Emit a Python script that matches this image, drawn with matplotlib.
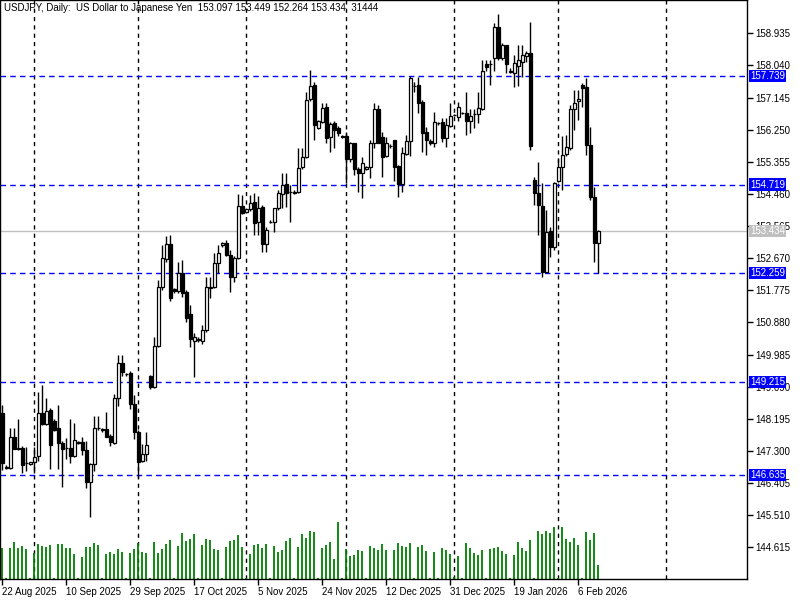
import matplotlib
matplotlib.use("Agg")
import matplotlib.pyplot as plt
import matplotlib.transforms as mtransforms
import numpy as np
import pandas as pd

# USDJPY daily bars (Sun-Fri broker calendar)
start_date = "2025-08-22"
opens = [148.36, 146.85, 146.83, 147.68, 147.36, 147.38, 146.96, 146.93, 146.98, 147.16,
         148.35, 148.04, 148.43, 148.13, 147.93, 147.51, 147.37, 147.37, 147.16, 147.53,
         147.54, 147.32, 146.43, 146.93, 147.93, 147.87, 147.91, 147.71, 147.53, 148.77,
         149.74, 149.43, 149.46, 148.60, 147.84, 147.03, 147.21, 149.39, 149.09, 150.23,
         151.86, 152.64, 153.06, 151.81, 151.75, 152.25, 151.74, 151.11, 150.37, 150.42,
         150.37, 150.67, 151.87, 151.87, 152.54, 153.04, 153.10, 152.76, 152.15, 152.68,
         154.12, 153.95, 154.03, 154.23, 153.68, 154.09, 153.06, 153.68, 153.69, 154.06,
         154.46, 154.74, 154.52, 154.52, 154.52, 155.20, 155.50, 157.10, 157.49, 156.31,
         156.47, 156.87, 156.04, 156.43, 156.29, 156.07, 156.07, 155.42, 155.87, 155.15,
         155.03, 155.15, 155.22, 155.89, 156.82, 156.04, 155.52, 155.80, 155.96, 155.24,
         154.74, 155.57, 155.93, 157.47, 157.49, 157.03, 156.19, 155.93, 155.89, 156.43,
         156.46, 156.03, 156.35, 156.66, 156.61, 156.71, 156.72, 156.50, 156.68, 156.68,
         156.83, 158.07, 158.08, 158.26, 159.12, 158.26, 158.61, 157.87, 157.84, 158.02,
         158.14, 158.31, 158.38, 154.85, 154.49, 154.12, 152.29, 153.44, 152.97, 154.83,
         155.22, 155.57, 155.73, 156.82, 157.05, 157.49, 157.45, 155.82, 154.37, 153.097]
highs = [148.58, 146.91, 147.93, 147.94, 148.19, 147.44, 147.41, 146.99, 147.41, 148.93,
         149.14, 148.77, 148.49, 148.19, 148.58, 147.58, 147.65, 148.19, 148.07, 147.58,
         147.69, 147.58, 146.96, 148.28, 148.28, 147.94, 148.39, 147.77, 148.90, 149.97,
         149.97, 149.47, 149.53, 148.86, 147.88, 147.49, 147.82, 149.41, 150.48, 152.06,
         153.04, 153.29, 153.31, 151.84, 152.57, 152.62, 151.78, 151.37, 150.58, 150.48,
         150.81, 152.15, 152.15, 152.81, 153.04, 153.13, 153.18, 152.90, 152.73, 154.45,
         154.43, 154.04, 154.43, 154.49, 154.40, 154.15, 153.54, 153.73, 154.07, 154.57,
         155.03, 155.03, 154.71, 154.57, 155.73, 155.73, 157.31, 157.91, 157.58, 156.52,
         156.98, 156.98, 156.46, 156.49, 156.35, 156.11, 156.19, 155.91, 155.88, 155.22,
         155.50, 155.24, 155.96, 156.98, 156.94, 156.19, 156.05, 155.84, 155.97, 155.27,
         155.78, 156.10, 157.75, 157.59, 157.73, 157.08, 156.33, 155.98, 156.75, 156.46,
         156.57, 156.57, 156.98, 156.69, 157.03, 156.73, 157.31, 156.82, 156.82, 157.31,
         158.19, 158.19, 158.19, 159.21, 159.47, 158.66, 158.62, 157.96, 158.33, 158.61,
         158.61, 158.45, 159.26, 154.94, 155.36, 154.76, 154.01, 153.55, 154.80, 155.45,
         156.07, 156.10, 156.94, 157.36, 157.36, 157.54, 157.68, 156.32, 154.66, 153.449]
lows = [146.77, 146.80, 146.81, 147.35, 147.32, 146.68, 146.75, 146.91, 146.69, 147.03,
        148.02, 148.02, 146.80, 147.85, 146.80, 146.30, 147.07, 146.97, 147.12, 147.49,
        147.19, 146.26, 145.47, 146.75, 147.88, 147.83, 147.69, 147.44, 147.49, 148.55,
        149.40, 149.39, 148.46, 147.63, 146.54, 146.99, 147.03, 149.02, 149.04, 150.19,
        151.78, 152.56, 151.48, 151.70, 151.70, 151.60, 150.90, 150.20, 149.37, 150.34,
        150.28, 150.61, 151.55, 151.84, 152.25, 152.99, 152.73, 151.74, 152.01, 152.65,
        153.90, 153.93, 153.98, 153.32, 153.32, 152.84, 152.84, 153.65, 153.41, 154.01,
        154.07, 154.10, 153.68, 154.46, 154.49, 155.15, 155.46, 157.05, 155.96, 156.27,
        156.44, 155.87, 155.64, 155.73, 156.07, 156.03, 154.76, 155.36, 154.99, 154.52,
        154.34, 155.13, 154.90, 155.73, 155.88, 154.94, 155.49, 155.75, 154.83, 154.38,
        154.52, 155.54, 155.52, 157.31, 156.71, 155.64, 155.54, 155.82, 155.78, 156.39,
        155.91, 155.78, 156.33, 156.63, 156.50, 156.69, 156.10, 156.17, 156.29, 156.43,
        156.80, 157.88, 157.49, 157.88, 158.19, 158.19, 157.82, 157.82, 157.43, 157.47,
        157.73, 158.14, 155.68, 154.15, 153.32, 152.15, 152.27, 152.71, 152.90, 154.79,
        154.57, 155.52, 155.68, 156.24, 156.52, 156.87, 155.54, 154.29, 152.55, 152.264]
closes = [146.96, 146.82, 147.68, 147.36, 147.38, 146.91, 146.95, 146.98, 147.14, 148.35,
          148.04, 148.41, 147.46, 147.88, 147.51, 147.34, 147.37, 147.16, 147.60, 147.55,
          147.32, 146.44, 146.94, 147.93, 147.94, 147.91, 147.70, 147.56, 148.77, 149.74,
          149.51, 149.44, 148.60, 147.84, 147.00, 147.21, 147.46, 149.09, 150.23, 151.86,
          152.67, 153.06, 151.57, 151.76, 152.25, 151.71, 151.01, 150.41, 150.47, 150.40,
          150.67, 151.86, 151.85, 152.53, 152.82, 153.10, 152.76, 152.15, 152.68, 154.12,
          153.94, 154.03, 154.20, 153.64, 154.07, 153.06, 153.45, 153.69, 154.06, 154.48,
          154.71, 154.49, 154.51, 154.48, 155.17, 155.50, 157.08, 157.47, 156.38, 156.49,
          156.85, 156.01, 156.41, 156.24, 156.15, 156.06, 155.42, 155.87, 155.15, 155.03,
          155.31, 155.22, 155.89, 156.82, 155.89, 155.50, 155.87, 155.79, 155.20, 154.74,
          155.59, 155.93, 157.68, 157.46, 157.00, 156.17, 155.96, 155.87, 156.47, 156.44,
          156.01, 156.38, 156.63, 156.65, 156.87, 156.72, 156.50, 156.63, 156.69, 156.85,
          157.88, 158.00, 158.07, 159.12, 158.26, 158.61, 158.07, 157.88, 158.10, 158.19,
          158.33, 158.39, 155.80, 154.49, 154.15, 152.29, 153.41, 152.97, 154.77, 155.22,
          155.54, 155.76, 156.83, 157.00, 157.11, 157.40, 155.82, 154.37, 153.10, 153.434]
tick_volume = [69800, 1200, 69100, 83200, 69800, 74200, 66800, 1200, 59200, 78700,
               74200, 72000, 76500, 1200, 78700, 78700, 69800, 69800, 56200, 1200,
               49500, 72000, 72000, 81000, 76500, 1200, 56200, 60700, 56200, 67500,
               60700, 1200, 58500, 67500, 81700, 60700, 58500, 1200, 83200, 58500,
               67500, 78700, 87700, 1200, 74200, 103500, 85500, 90000, 101200, 1200,
               76500, 90000, 87700, 67500, 65200, 1600, 72000, 85500, 87700, 99000,
               72000, 1200, 56200, 76500, 78700, 69800, 78700, 1200, 74200, 60700,
               65200, 85500, 92200, 1200, 72000, 101200, 92200, 108000, 105700, 1200,
               69800, 76500, 83200, 45000, 128200, 1200, 67500, 51700, 54000, 65200,
               63000, 1200, 74200, 69800, 65200, 78700, 65200, 1200, 65200, 81000,
               74200, 72000, 81000, 1200, 72000, 76500, 63000, 1200, 60700, 1600,
               69800, 65200, 56200, 4500, 51700, 1200, 81000, 69800, 58500, 54000,
               65200, 1200, 67500, 69800, 72000, 63000, 56200, 1200, 54000, 83200,
               69800, 63000, 87700, 2200, 108000, 101200, 108000, 103500, 117000, 1200,
               117000, 90000, 83200, 92200, 76500, 2200, 105700, 87700, 103500, 31444]

levels = [157.739, 154.719, 152.259, 149.215, 146.635]
last_price = 153.434
header = "USDJPY, Daily:  US Dollar to Japanese Yen  153.097 153.449 152.264 153.434  31444"
price_ticks = [144.615, 145.510, 146.405, 147.300, 148.195, 149.090, 149.985, 150.880,
               151.775, 152.670, 153.565, 154.460, 155.355, 156.250, 157.145, 158.040, 158.935]

dates = pd.bdate_range(start_date, periods=len(opens), freq="C",
                       weekmask="Sun Mon Tue Wed Thu Fri")
x = np.arange(len(opens))
o = np.array(opens)
h = np.array(highs)
l = np.array(lows)
c = np.array(closes)
up = c >= o

fnt = "Liberation Sans"
fig = plt.figure(figsize=(8, 6), dpi=100)
ax = fig.add_axes([0, 21 / 600, 747 / 800, 579 / 600])
ax.set_xlim(-0.575, 186.2)
ax.set_ylim(143.732, 159.863)

# month separators (last one sits in the empty right-hand shift area)
month_start = [i for i in range(1, len(dates)) if dates[i].month != dates[i - 1].month]
for i in month_start + [166]:
    ax.axvline(i, color="black", lw=1, ls=(0, (3, 3)), zorder=1)

# volume histogram at the bottom
ax.vlines(x, 0, np.array(tick_volume) / 1302750, transform=ax.get_xaxis_transform(),
          color="#008000", lw=1.3, zorder=2)

for lv in levels:
    ax.axhline(lv, color="#0000ff", lw=1, ls=(0, (4, 3)), zorder=1.5)
ax.axhline(last_price, color="#c0c0c0", lw=1, zorder=1.4)

# candles
ax.vlines(x, l, h, color="black", lw=1, zorder=3)
ax.bar(x[up], np.maximum(c[up] - o[up], 0.004), bottom=o[up], width=0.7,
       facecolor="white", edgecolor="black", lw=0.9, zorder=4)
ax.bar(x[~up], np.maximum(o[~up] - c[~up], 0.004), bottom=c[~up], width=0.7,
       facecolor="black", edgecolor="black", lw=0.9, zorder=4)

ax.yaxis.tick_right()
ax.set_yticks(price_ticks)
ax.set_yticklabels([f"{p:.3f}" for p in price_ticks], fontfamily=fnt, fontsize=7)
ax.tick_params(axis="y", direction="out", length=4, width=1, pad=2, colors="black")
xt = list(range(0, len(dates), 16))
ax.set_xticks(xt)
ax.set_xticklabels([f"{dates[i].day} {dates[i].strftime('%b %Y')}" for i in xt],
                   fontfamily=fnt, fontsize=7, ha="left")
ax.tick_params(axis="x", direction="out", length=4, width=1, pad=2)
for s in ax.spines.values():
    s.set_color("black")
    s.set_linewidth(1)

trans = mtransforms.blended_transform_factory(ax.transAxes, ax.transData)
for lv in levels:
    ax.text(1.004, lv, f"{lv:.3f}", transform=trans, color="white", fontsize=7,
            fontfamily=fnt, va="center", ha="left", clip_on=False, zorder=10,
            bbox=dict(boxstyle="square,pad=0.12", fc="#0000ff", ec="none"))
ax.text(1.004, last_price, f"{last_price:.3f}", transform=trans, color="white",
        fontsize=7, fontfamily=fnt, va="center", ha="left", clip_on=False, zorder=10,
        bbox=dict(boxstyle="square,pad=0.12", fc="#c0c0c0", ec="none"))

ax.text(4 / 747, 1 - 8 / 579, header, transform=ax.transAxes, fontsize=7,
        fontfamily=fnt, va="center", ha="left", zorder=10)

fig.savefig("out.png", dpi=100, facecolor="white")
